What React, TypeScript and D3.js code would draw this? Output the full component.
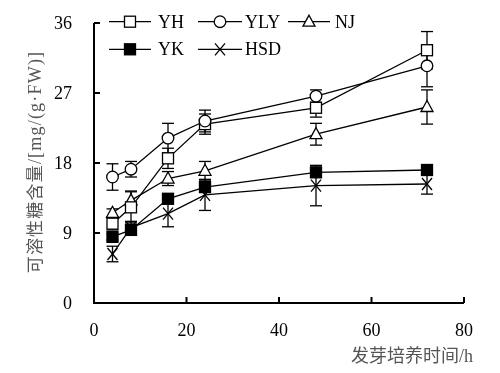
import * as d3 from 'd3';
import React from 'react';

const times = [4, 8, 16, 24, 48, 72];
const yhValues = [10.2, 12.3, 18.6, 23.0, 25.1, 32.5];
const yhErr = [0.8, 2.0, 1.3, 1.3, 1.2, 2.4];
const ylyValues = [16.2, 17.2, 21.2, 23.4, 26.6, 30.5];
const ylyErr = [1.7, 1.0, 1.9, 1.4, 0.8, 2.7];
const njValues = [11.6, 13.2, 16.0, 17.0, 21.7, 25.2];
const njErr = [0.5, 1.2, 0.9, 1.2, 1.4, 2.2];
const ykValues = [8.5, 9.4, 13.4, 14.9, 16.8, 17.1];
const ykErr = [0.4, 0.5, 0.5, 0.6, 0.5, 0.6];
const hsdValues = [6.3, 9.7, 11.5, 13.9, 15.1, 15.3];
const hsdErr = [1.0, 0.8, 1.7, 2.0, 2.6, 1.3];

const xTicks = [0, 20, 40, 60, 80];
const yTicks = [0, 9, 18, 27, 36];

type MarkerKind = 'square' | 'circle' | 'triangle' | 'filled' | 'cross';

const series: { name: string; values: number[]; err: number[]; marker: MarkerKind }[] = [
  { name: 'HSD', values: hsdValues, err: hsdErr, marker: 'cross' },
  { name: 'YK', values: ykValues, err: ykErr, marker: 'filled' },
  { name: 'NJ', values: njValues, err: njErr, marker: 'triangle' },
  { name: 'YH', values: yhValues, err: yhErr, marker: 'square' },
  { name: 'YLY', values: ylyValues, err: ylyErr, marker: 'circle' },
];

const legendRows: { name: string; marker: MarkerKind }[][] = [
  [
    { name: 'YH', marker: 'square' },
    { name: 'YLY', marker: 'circle' },
    { name: 'NJ', marker: 'triangle' },
  ],
  [
    { name: 'YK', marker: 'filled' },
    { name: 'HSD', marker: 'cross' },
  ],
];

const width = 500;
const height = 373;
const serif = '"Liberation Serif", "Times New Roman", serif';
const cjkOnly = '"Noto Sans CJK SC", sans-serif';

function Marker({ kind, cx, cy }: { kind: MarkerKind; cx: number; cy: number }) {
  const s = 5.5;
  if (kind === 'square' || kind === 'filled') {
    return (
      <rect x={cx - s} y={cy - s} width={s * 2} height={s * 2}
        fill={kind === 'filled' ? '#000' : '#fff'} stroke="#000" strokeWidth={1.3} />
    );
  }
  if (kind === 'circle') {
    return <circle cx={cx} cy={cy} r={5.8} fill="#fff" stroke="#000" strokeWidth={1.3} />;
  }
  if (kind === 'triangle') {
    const pts = [[cx, cy - 6.5], [cx + 6, cy + 4.5], [cx - 6, cy + 4.5]];
    return <polygon points={pts.map(p => p.join(',')).join(' ')} fill="#fff" stroke="#000" strokeWidth={1.3} />;
  }
  return (
    <g stroke="#000" strokeWidth={1.3}>
      <line x1={cx - 5} y1={cy - 6} x2={cx + 5} y2={cy + 6} />
      <line x1={cx - 5} y1={cy + 6} x2={cx + 5} y2={cy - 6} />
    </g>
  );
}

export default function App() {
  const x = d3.scaleLinear().domain([0, 80]).range([94, 464]);
  const y = d3.scaleLinear().domain([0, 36]).range([303, 23]);

  const line = d3.line<number>()
    .x((_, i) => x(times[i]))
    .y(d => y(d));

  const cap = 6;

  return (
    <div style={{ position: 'absolute', left: 0, top: 0 }}>
      <svg width={width} height={height} style={{ display: 'block', background: '#fff', filter: 'grayscale(1)' }}>
        {/* error bars */}
        {series.map(s => (
          <g key={'err-' + s.name} stroke="#000" strokeWidth={1.3}>
            {s.values.map((v, i) => {
              const px = x(times[i]);
              const top = y(v + s.err[i]);
              const bot = y(v - s.err[i]);
              return (
                <g key={i}>
                  <line x1={px} x2={px} y1={top} y2={bot} />
                  <line x1={px - cap} x2={px + cap} y1={top} y2={top} />
                  <line x1={px - cap} x2={px + cap} y1={bot} y2={bot} />
                </g>
              );
            })}
          </g>
        ))}

        {/* lines */}
        {series.map(s => (
          <path key={'line-' + s.name} d={line(s.values) ?? ''} fill="none" stroke="#000" strokeWidth={1.3} />
        ))}

        {/* markers */}
        {series.map(s => (
          <g key={'mk-' + s.name}>
            {s.values.map((v, i) => (
              <Marker key={i} kind={s.marker} cx={x(times[i])} cy={y(v)} />
            ))}
          </g>
        ))}

        {/* axes */}
        <g stroke="#000" strokeWidth={2} fill="none">
          <path d={`M${x(0)},${y(36)}V${y(0)}H${x(80)}`} />
          {yTicks.filter(t => t > 0).map(t => (
            <line key={'yt' + t} x1={x(0)} x2={x(0) + 6} y1={y(t)} y2={y(t)} />
          ))}
          {xTicks.filter(t => t > 0).map(t => (
            <line key={'xt' + t} x1={x(t)} x2={x(t)} y1={y(0)} y2={y(0) - 6} />
          ))}
        </g>

        <g fontFamily={serif} fontSize={18} fill="#000">
          {yTicks.map(t => (
            <text key={'yl' + t} x={72} y={y(t)} dy="0.35em" textAnchor="end">{t}</text>
          ))}
          {xTicks.map(t => (
            <text key={'xl' + t} x={x(t)} y={336} textAnchor="middle">{t}</text>
          ))}
        </g>

        <text x={473} y={362} textAnchor="end" fontFamily={serif} fontSize={18} fill="#555">
          <tspan fontFamily={cjkOnly} fontSize={18}>发芽培养时间</tspan>/h
        </text>
        <g transform="translate(41,162) rotate(-90)">
          <text textAnchor="middle" fontFamily={serif} fontSize={18} fill="#555" letterSpacing={1.2}>
            <tspan fontFamily={cjkOnly} fontSize={17}>可溶性糖含量</tspan>/[mg/(g·FW)]
          </text>
        </g>

        {/* legend */}
        {legendRows.map((row, r) => (
          <g key={'lr' + r}>
            {row.map((item, c) => {
              const x0 = [109, 198, 288][c];
              const x1 = [151, 242, 330][c];
              const ty = [21.7, 49.3][r];
              const tx = [158, 245, 335][c];
              return (
                <g key={item.name}>
                  <line x1={x0} x2={x1} y1={ty} y2={ty} stroke="#000" strokeWidth={1.3} />
                  <Marker kind={item.marker} cx={(x0 + x1) / 2} cy={ty} />
                  <text x={tx} y={ty + 6} fontFamily={serif} fontSize={18} fill="#000">{item.name}</text>
                </g>
              );
            })}
          </g>
        ))}
      </svg>
    </div>
  );
}
